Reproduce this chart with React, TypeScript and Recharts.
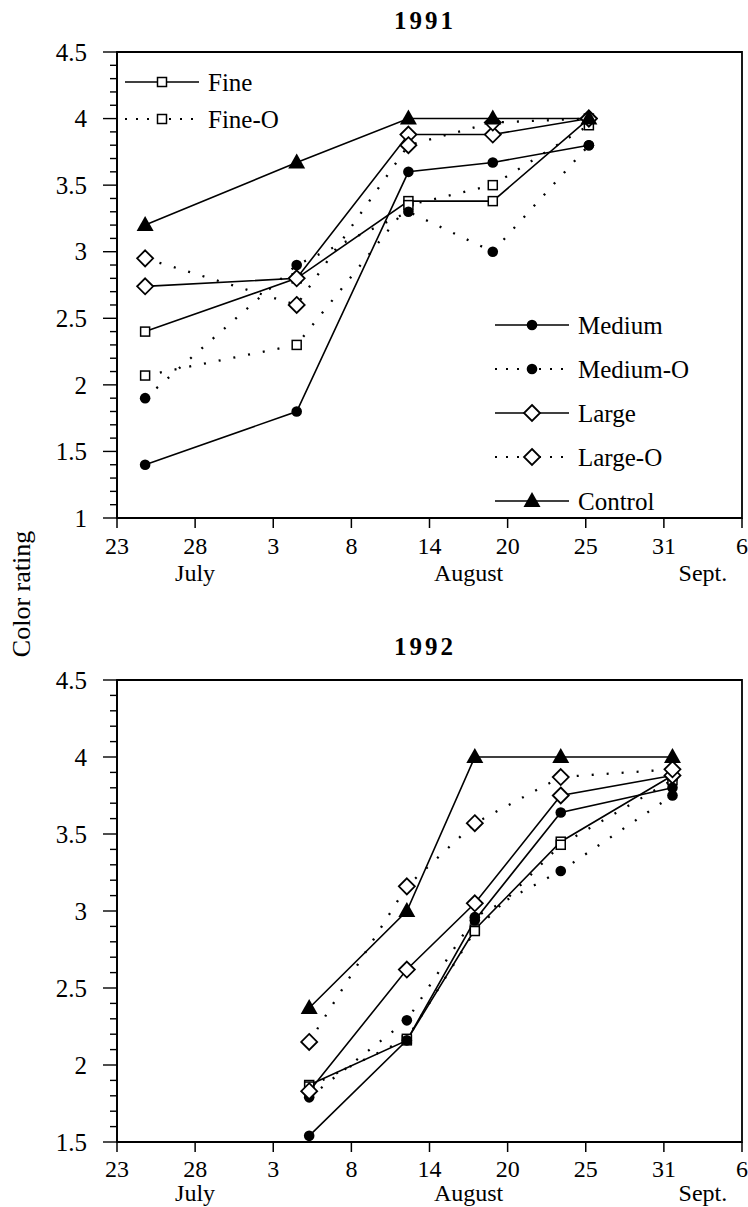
import React from 'react';
import { LineChart, Line, XAxis, YAxis, ReferenceArea, Legend } from 'recharts';

const FONT = '"Liberation Serif", "Times New Roman", serif';

// x axis: evenly spaced date ticks (index units)
const TICK_POS = [0, 1, 2, 3, 4, 5, 6, 7, 8];
const TICK_DAYS = ['23', '28', '3', '8', '14', '20', '25', '31', '6'];
const MONTH_POS = [1, 4.5, 7.5];
const MONTHS = ['July', 'August', 'Sept.'];

// 1991 sampling dates (in tick units from 23 July) and ratings
const X_1991 = [0.36, 2.3, 3.73, 4.81, 6.04];
const FINE_1991 = [2.4, 2.8, 3.38, 3.38, 4.0];
const FINE_O_1991 = [2.07, 2.3, 3.35, 3.5, 3.95];
const MEDIUM_1991 = [1.4, 1.8, 3.6, 3.67, 3.8];
const MEDIUM_O_1991 = [1.9, 2.9, 3.3, 3.0, 3.8];
const LARGE_1991 = [2.74, 2.8, 3.88, 3.88, 4.0];
const LARGE_O_1991 = [2.95, 2.6, 3.8, 3.97, 4.0];
const CONTROL_1991 = [3.2, 3.67, 4.0, 4.0, 4.0];

// 1992
const X_1992 = [2.46, 3.71, 4.58, 5.68, 7.11];
const FINE_1992 = [1.87, 2.16, 2.88, 3.45, 3.88];
const FINE_O_1992 = [1.86, 2.17, 2.87, 3.43, 3.85];
const MEDIUM_1992 = [1.54, 2.16, 2.94, 3.64, 3.8];
const MEDIUM_O_1992 = [1.79, 2.29, 2.96, 3.26, 3.75];
const LARGE_1992 = [1.83, 2.62, 3.05, 3.75, 3.88];
const LARGE_O_1992 = [2.15, 3.16, 3.57, 3.87, 3.92];
const CONTROL_1992 = [2.37, 3.0, 4.0, 4.0, 4.0];

type Kind = 'square' | 'circle' | 'diamond' | 'triangle';

const SERIES: { key: string; name: string; dotted: boolean; kind: Kind }[] = [
  { key: 'fine', name: 'Fine', dotted: false, kind: 'square' },
  { key: 'fineO', name: 'Fine-O', dotted: true, kind: 'square' },
  { key: 'medium', name: 'Medium', dotted: false, kind: 'circle' },
  { key: 'mediumO', name: 'Medium-O', dotted: true, kind: 'circle' },
  { key: 'large', name: 'Large', dotted: false, kind: 'diamond' },
  { key: 'largeO', name: 'Large-O', dotted: true, kind: 'diamond' },
  { key: 'control', name: 'Control', dotted: false, kind: 'triangle' },
];

const buildRows = (xs: number[], cols: Record<string, number[]>) =>
  xs.map((x, i) => {
    const row: Record<string, number> = { x };
    Object.keys(cols).forEach(k => (row[k] = cols[k][i]));
    return row;
  });

const data1991 = buildRows(X_1991, {
  fine: FINE_1991, fineO: FINE_O_1991, medium: MEDIUM_1991, mediumO: MEDIUM_O_1991,
  large: LARGE_1991, largeO: LARGE_O_1991, control: CONTROL_1991,
});
const data1992 = buildRows(X_1992, {
  fine: FINE_1992, fineO: FINE_O_1992, medium: MEDIUM_1992, mediumO: MEDIUM_O_1992,
  large: LARGE_1992, largeO: LARGE_O_1992, control: CONTROL_1992,
});

const Marker = ({ kind, cx, cy }: { kind: Kind; cx: number; cy: number }) => {
  if (kind === 'square')
    return <rect x={cx - 4.5} y={cy - 4.5} width={9} height={9} fill="#fff" stroke="#000" strokeWidth={1.5} />;
  if (kind === 'circle') return <circle cx={cx} cy={cy} r={5.3} fill="#000" />;
  if (kind === 'diamond')
    return (
      <polygon
        points={`${cx},${cy - 8} ${cx + 8},${cy} ${cx},${cy + 8} ${cx - 8},${cy}`}
        fill="#fff"
        stroke="#000"
        strokeWidth={1.8}
      />
    );
  return <polygon points={`${cx},${cy - 9} ${cx + 8.5},${cy + 6} ${cx - 8.5},${cy + 6}`} fill="#000" />;
};

// y tick marks every 0.1, labels on the 0.5 steps
const minorTicks = (lo: number) => {
  const out: number[] = [];
  for (let v = lo; v <= 4.5001; v += 0.1) out.push(Math.round(v * 10) / 10);
  return out;
};

const YTick = (props: any) => {
  const { x, y, payload } = props;
  const v = payload.value;
  const major = Math.abs(v * 2 - Math.round(v * 2)) < 1e-6;
  return (
    <g>
      <line x1={x - (major ? 14 : 7)} x2={x} y1={y} y2={y} stroke="#000" strokeWidth={1.4} />
      {major && (
        <text x={x - 30} y={y} dy="0.35em" textAnchor="end" fontSize={25} fontFamily={FONT} fill="#000">
          {String(v)}
        </text>
      )}
    </g>
  );
};

const legendContent = () => {
  const rows = SERIES.map((s, i) =>
    i < 2 ? { s, x: 125, y: 82 + i * 37 } : { s, x: 495, y: 325 + (i - 2) * 44 }
  );
  return (
    <svg width={748} height={600} style={{ display: 'block' }}>
      {rows.map(({ s, x, y }) => (
        <g key={s.key}>
          <line
            x1={x}
            x2={x + 74}
            y1={y}
            y2={y}
            stroke="#000"
            strokeWidth={s.dotted ? 2 : 1.6}
            strokeDasharray={s.dotted ? '2 9' : undefined}
          />
          <Marker kind={s.kind} cx={x + 37} cy={y} />
          <text x={x + 83} y={y} dy="0.35em" fontSize={25} fontFamily={FONT} fill="#000">
            {s.name}
          </text>
        </g>
      ))}
    </svg>
  );
};

const Panel = ({
  data, height, plotTop, plotBottom, yMin, dayMargin, monthMargin, legend,
}: {
  data: Record<string, number>[]; height: number; plotTop: number; plotBottom: number;
  yMin: number; dayMargin: number; monthMargin: number; legend?: boolean;
}) => (
  <LineChart
    width={748}
    height={height}
    data={data}
    margin={{ top: plotTop, right: 6, left: 57, bottom: height - plotBottom - 60 }}
  >
    <XAxis
      dataKey="x"
      type="number"
      domain={[0, 8]}
      ticks={TICK_POS}
      allowDataOverflow
      height={30}
      tickSize={10}
      tickMargin={dayMargin}
      tickFormatter={(i: number) => TICK_DAYS[i]}
      tick={{ fontSize: 24, fill: '#000', fontFamily: FONT }}
      axisLine={{ stroke: '#000', strokeWidth: 2.2 }}
      tickLine={{ stroke: '#000', strokeWidth: 1.5 }}
    />
    <XAxis
      xAxisId="month"
      dataKey="x"
      type="number"
      domain={[0, 8]}
      ticks={MONTH_POS}
      allowDataOverflow
      height={30}
      tickSize={0}
      tickMargin={monthMargin}
      axisLine={false}
      tickLine={false}
      tickFormatter={(v: number) => MONTHS[MONTH_POS.indexOf(v)]}
      tick={{ fontSize: 24, fill: '#000', fontFamily: FONT }}
    />
    <YAxis
      type="number"
      domain={[yMin, 4.5]}
      ticks={minorTicks(yMin)}
      interval={0}
      allowDataOverflow
      width={60}
      tickSize={0}
      tickMargin={0}
      tick={<YTick />}
      tickLine={false}
      axisLine={{ stroke: '#000', strokeWidth: 1.8 }}
    />
    <ReferenceArea x1={0} x2={8} y1={yMin} y2={4.5} fill="none" stroke="#000" strokeWidth={1.8} ifOverflow="visible" />
    {SERIES.map(s => (
      <Line
        key={s.key}
        dataKey={s.key}
        name={s.name}
        stroke="#000"
        strokeWidth={s.dotted ? 2.3 : 1.6}
        strokeDasharray={s.dotted ? '2 13' : undefined}
        isAnimationActive={false}
        dot={(p: any) => (
          <g key={`${s.key}-${p.index}`}>
            <Marker kind={s.kind} cx={p.cx} cy={p.cy} />
          </g>
        )}
        activeDot={false}
      />
    ))}
    {legend && (
      <Legend
        layout="horizontal"
        verticalAlign="middle"
        align="center"
        content={legendContent}
        wrapperStyle={{ position: 'absolute', left: 0, top: 0, width: 748, height: 600, pointerEvents: 'none' }}
      />
    )}
  </LineChart>
);

const titleStyle: React.CSSProperties = {
  position: 'absolute',
  left: 375,
  width: 100,
  textAlign: 'center',
  fontFamily: FONT,
  fontWeight: 'bold',
  fontSize: 25,
  lineHeight: '25px',
  letterSpacing: 3,
};

export default function App() {
  return (
    <div style={{ position: 'absolute', left: 0, top: 0, width: 748, height: 1207, background: '#fff' }}>
      <div style={{ ...titleStyle, top: 8 }}>1991</div>
      <div style={{ position: 'absolute', left: 0, top: 0 }}>
        <Panel data={data1991} height={600} plotTop={52} plotBottom={518} yMin={1} dayMargin={9} monthMargin={16} legend />
      </div>
      <div style={{ ...titleStyle, top: 634 }}>1992</div>
      <div style={{ position: 'absolute', left: 0, top: 600 }}>
        <Panel data={data1992} height={607} plotTop={80} plotBottom={542} yMin={1.5} dayMargin={8} monthMargin={12} />
      </div>
      <svg width={44} height={200} style={{ position: 'absolute', left: 0, top: 494 }}>
        <text
          transform="translate(21,100) rotate(-90)"
          textAnchor="middle"
          dy="0.35em"
          fontSize={26}
          fontFamily={FONT}
          fill="#000"
        >
          Color rating
        </text>
      </svg>
    </div>
  );
}
